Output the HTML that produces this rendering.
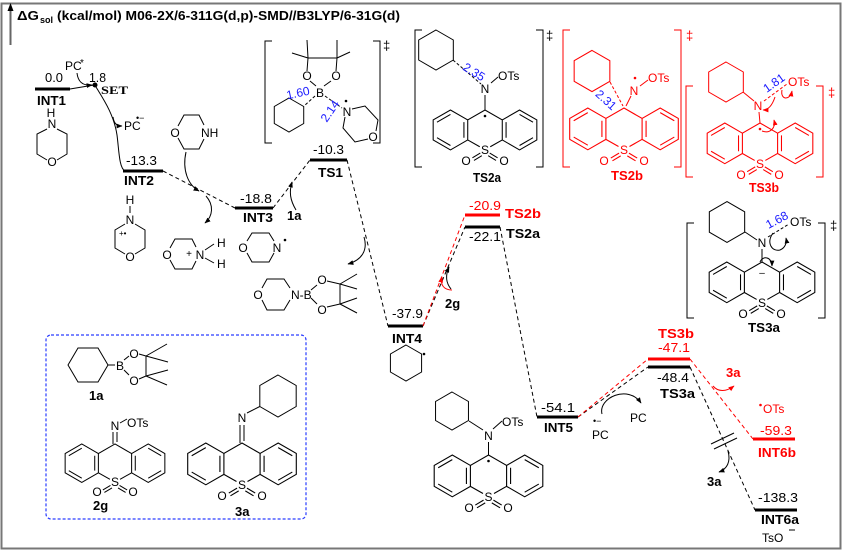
<!DOCTYPE html>
<html><head><meta charset="utf-8">
<style>
html,body{margin:0;padding:0;background:#fff;}
svg{display:block;}
text{font-family:"Liberation Sans",Arial,sans-serif;font-size:12px;}
.b{font-weight:bold;font-size:13px;}
.r{fill:#ff0000;}
.bl{fill:#1a1aff;}
</style></head><body>
<svg width="846" height="553" viewBox="0 0 846 553" xmlns="http://www.w3.org/2000/svg">
<defs>
<marker id="ak" viewBox="0 0 10 10" refX="9" refY="5" markerWidth="6" markerHeight="6" orient="auto"><path d="M0,1L10,5L0,9z" fill="#000"/></marker>
<marker id="ar" viewBox="0 0 10 10" refX="9" refY="5" markerWidth="6" markerHeight="6" orient="auto"><path d="M0,1L10,5L0,9z" fill="#ff0000"/></marker>
<g id="tx" fill="none">
<path d="M-16.45,28.5 L-16.45,9.5 L0,0 L16.45,9.5 L16.45,28.5 L5,35 M-16.45,28.5 L-5,35 M16.45,9.5 L32.9,0 L49.36,9.5 L49.36,28.5 L32.9,38 L16.45,28.5 M-16.45,9.5 L-32.9,0 L-49.36,9.5 L-49.36,28.5 L-32.9,38 L-16.45,28.5 M20.07,11.59 L20.07,26.41 M32.9,4.2 L45.73,11.59 M45.73,26.41 L32.9,33.8 M-20.07,11.59 L-20.07,26.41 M-32.9,4.2 L-45.73,11.59 M-45.73,26.41 L-32.9,33.8 M-4.5,41 L-12,45.5 M-3,43.5 L-10.5,48 M4.5,41 L12,45.5 M3,43.5 L10.5,48"/>
</g>
<polygon id="hx" points="0,-20 17.32,-10 17.32,10 0,20 -17.32,10 -17.32,-10" fill="none"/>
</defs>

<!-- frame -->
<rect x="1.5" y="3.5" width="839" height="545" fill="none" stroke="#777" stroke-width="2"/>
<line x1="10.5" y1="45" x2="10.5" y2="10" stroke="#666" stroke-width="2"/>
<path d="M10.5,3 L7.5,11 L13.5,11z" fill="#000"/>

<!-- title -->
<text x="17" y="20" class="b" textLength="22" lengthAdjust="spacingAndGlyphs">ΔG</text>
<text x="40" y="23" style="font-size:9px;font-weight:bold">sol</text>
<text x="57" y="20" class="b" textLength="343" lengthAdjust="spacingAndGlyphs">(kcal/mol) M06-2X/6-311G(d,p)-SMD//B3LYP/6-31G(d)</text>

<!-- energy bars -->
<g stroke="#000" stroke-width="3">
<line x1="35" y1="89" x2="70" y2="89"/>
<line x1="123" y1="171" x2="163" y2="171"/>
<line x1="235" y1="208" x2="273" y2="208"/>
<line x1="310" y1="160" x2="347" y2="160"/>
<line x1="388" y1="326" x2="423" y2="326"/>
<line x1="465" y1="227" x2="500" y2="227"/>
<line x1="537" y1="417" x2="578" y2="417"/>
<line x1="648" y1="367" x2="690" y2="367"/>
<line x1="755" y1="510" x2="797" y2="510"/>
</g>
<g stroke="#ff0000" stroke-width="3">
<line x1="465" y1="215" x2="500" y2="215"/>
<line x1="648" y1="359" x2="690" y2="359"/>
<line x1="753" y1="439" x2="795" y2="439"/>
</g>
<g stroke="#000" stroke-width="1" stroke-dasharray="4,3" fill="none">
<line x1="163" y1="171" x2="235" y2="208"/>
<line x1="273" y1="208" x2="310" y2="160"/>
<line x1="347" y1="160" x2="388" y2="326"/>
<line x1="423" y1="326" x2="465" y2="227"/>
<line x1="500" y1="227" x2="537" y2="417"/>
<line x1="578" y1="417" x2="648" y2="367"/>
<line x1="690" y1="367" x2="755" y2="510"/>
</g>
<g stroke="#ff0000" stroke-width="1" stroke-dasharray="4,3" fill="none">
<line x1="423" y1="326" x2="465" y2="215"/>
<line x1="578" y1="417" x2="648" y2="359"/>
<line x1="690" y1="359" x2="753" y2="439"/>
</g>

<!-- arrows / curves -->
<g stroke="#000" stroke-width="1" fill="none">
<line x1="70" y1="89" x2="94" y2="85"/>
<path d="M77,73 C78,82 83,86 92,85" marker-end="url(#ak)"/>
<path d="M96,87 C104,100 114,115 117,135 C119,150 119,168 125,171"/>
<path d="M113,117 C114,124 117,126 122,126" marker-end="url(#ak)"/>
<path d="M186,152 C182,170 188,185 199,191" marker-end="url(#ak)"/>
<path d="M206,196 C214,205 213,216 205,223" marker-end="url(#ak)"/>
<path d="M296,210 C290,200 289,192 292,182" marker-end="url(#ak)"/>
<path d="M364,237 C368,250 362,260 348,264" marker-end="url(#ak)"/>
<path d="M451,289 C446,283 445,276 449,267" marker-end="url(#ak)"/>
<path d="M602,414 C598,398 628,384 641,403" marker-end="url(#ak)"/>
<path d="M728,451 C731,462 727,469 719,472" marker-end="url(#ak)"/>
<line x1="711" y1="444" x2="734" y2="433"/>
<line x1="714" y1="449" x2="737" y2="438"/>
<line x1="789" y1="530" x2="795" y2="530"/>
</g>
<g stroke="#ff0000" stroke-width="1" fill="none">
<path d="M452,290 C444,290 440,285 442,277" marker-end="url(#ar)"/>
<path d="M713,386 C718,392 726,392 734,386" marker-end="url(#ar)"/>
</g>
<circle cx="95" cy="85" r="2.5" fill="#000"/>

<!-- energy labels -->
<text x="65" y="70">PC</text><text x="80" y="66" style="font-size:10px">*</text>
<text x="45" y="82" style="font-size:13px" textLength="18" lengthAdjust="spacingAndGlyphs">0.0</text>
<text x="89" y="82" style="font-size:13px" textLength="17" lengthAdjust="spacingAndGlyphs">1.8</text>
<text x="101" y="94" style="font-family:'Liberation Serif',serif;font-weight:bold;font-size:12px" textLength="27" lengthAdjust="spacingAndGlyphs">SET</text>
<text x="37" y="105" class="b" textLength="29" lengthAdjust="spacingAndGlyphs">INT1</text>
<text x="124" y="130">PC</text><text x="136" y="121" style="font-size:9px">•−</text>
<text x="126" y="165" style="font-size:13px" textLength="31" lengthAdjust="spacingAndGlyphs">-13.3</text>
<text x="124" y="185" class="b" textLength="30" lengthAdjust="spacingAndGlyphs">INT2</text>
<text x="240" y="203" style="font-size:13px" textLength="32" lengthAdjust="spacingAndGlyphs">-18.8</text>
<text x="243" y="222" class="b" textLength="30" lengthAdjust="spacingAndGlyphs">INT3</text>
<text x="287" y="220" class="b">1a</text>
<text x="313" y="154" style="font-size:13px" textLength="31" lengthAdjust="spacingAndGlyphs">-10.3</text>
<text x="318" y="177" class="b" textLength="25" lengthAdjust="spacingAndGlyphs">TS1</text>
<text x="392" y="318" style="font-size:13px" textLength="31" lengthAdjust="spacingAndGlyphs">-37.9</text>
<text x="392" y="343" class="b" textLength="30" lengthAdjust="spacingAndGlyphs">INT4</text>
<text x="469" y="210" class="r" style="font-size:13px" textLength="32" lengthAdjust="spacingAndGlyphs">-20.9</text>
<text x="505" y="218" class="b r" textLength="36" lengthAdjust="spacingAndGlyphs">TS2b</text>
<text x="469" y="241" style="font-size:13px" textLength="32" lengthAdjust="spacingAndGlyphs">-22.1</text>
<text x="506" y="238" class="b" textLength="34" lengthAdjust="spacingAndGlyphs">TS2a</text>
<text x="445" y="308" class="b">2g</text>
<text x="541" y="412" style="font-size:13px" textLength="34" lengthAdjust="spacingAndGlyphs">-54.1</text>
<text x="544" y="432" class="b" textLength="29" lengthAdjust="spacingAndGlyphs">INT5</text>
<text x="592" y="439">PC</text><text x="593" y="424" style="font-size:9px">•−</text>
<text x="630" y="422">PC</text>
<text x="658" y="338" class="b r" textLength="36" lengthAdjust="spacingAndGlyphs">TS3b</text>
<text x="658" y="352" class="r" style="font-size:13px" textLength="32" lengthAdjust="spacingAndGlyphs">-47.1</text>
<text x="657" y="382" style="font-size:13px" textLength="32" lengthAdjust="spacingAndGlyphs">-48.4</text>
<text x="660" y="398" class="b" textLength="35" lengthAdjust="spacingAndGlyphs">TS3a</text>
<text x="726" y="377" class="b r">3a</text>
<circle cx="760.5" cy="405" r="1.3" fill="#ff0000"/>
<text x="763" y="413" class="r">OTs</text>
<text x="760" y="435" class="r" style="font-size:13px" textLength="32" lengthAdjust="spacingAndGlyphs">-59.3</text>
<text x="758" y="457" class="b r" textLength="38" lengthAdjust="spacingAndGlyphs">INT6b</text>
<text x="707" y="486" class="b">3a</text>
<text x="758" y="502" style="font-size:13px" textLength="40" lengthAdjust="spacingAndGlyphs">-138.3</text>
<text x="761" y="524" class="b" textLength="38" lengthAdjust="spacingAndGlyphs">INT6a</text>
<text x="762" y="542">TsO</text>

<!-- morpholines -->
<g stroke="#000" stroke-width="1" fill="none">
<path d="M47,129 L37,134 L37,154 L47,160 M57,129 L67,134 L67,154 L57,160"/>
<path d="M178,126 L184,115 L199,115 L204,125 M178,138 L184,149 L199,149 L204,139"/>
<line x1="130" y1="206" x2="130" y2="213"/>
<path d="M125,224 L115,230 L115,248 L125,254 M135,224 L145,230 L145,248 L135,254"/>
<path d="M170,248 L175,239 L192,239 L196,247 M170,260 L175,269 L192,269 L196,261"/>
<path d="M205,250 L214,244 M205,258 L214,263"/>
<path d="M247,241 L252,233 L269,233 L274,241 M247,253 L252,262 L269,262 L274,253"/>
<path d="M262,288 L267,279 L284,279 L290,288 M262,300 L267,310 L284,310 L290,300"/>
<path d="M311,290 L317,285 M311,298 L317,304 M327,281 L340,284 M327,307 L340,304 M340,284 L340,304 M340,284 L357,274 M340,284 L357,289 M340,304 L357,298 M340,304 L357,313"/>
</g>
<text x="51" y="117" text-anchor="middle">H</text>
<text x="52" y="128" text-anchor="middle">N</text>
<text x="52" y="166" text-anchor="middle">O</text>
<text x="175" y="137" text-anchor="middle">O</text>
<text x="201" y="137">NH</text>
<text x="130" y="204" text-anchor="middle">H</text>
<text x="130" y="224" text-anchor="middle">N</text>
<text x="119" y="236" style="font-size:8px">+•</text>
<text x="130" y="261" text-anchor="middle">O</text>
<text x="167" y="259" text-anchor="middle">O</text>
<text x="189" y="257" text-anchor="middle" style="font-size:10px">+</text>
<text x="200" y="259" text-anchor="middle">N</text>
<text x="217" y="247">H</text>
<text x="217" y="268">H</text>
<text x="243" y="252" text-anchor="middle">O</text>
<text x="277" y="252" text-anchor="middle">N</text>
<circle cx="285" cy="240" r="1.3" fill="#000"/>
<text x="258" y="299" text-anchor="middle">O</text>
<text x="291" y="299">N-B</text>
<text x="322" y="284" text-anchor="middle">O</text>
<text x="322" y="314" text-anchor="middle">O</text>

<!-- INT4 cyclohexyl radical -->
<use href="#hx" transform="translate(406,363) scale(0.9)" stroke="#000" stroke-width="1.1"/>
<circle cx="424" cy="354" r="1.3" fill="#000"/>

<!-- brackets -->
<g fill="none" stroke-width="1">
<path d="M272,41 L265,41 L265,143 L272,143 M373,41 L380,41 L380,143 L373,143" stroke="#000"/>
<path d="M422,30 L415,30 L415,167 L422,167 M536,30 L543,30 L543,167 L536,167" stroke="#000"/>
<path d="M570,30 L563,30 L563,167 L570,167 M674,30 L681,30 L681,167 L674,167" stroke="#ff0000"/>
<path d="M693,86 L686,86 L686,177 L693,177 M816,86 L823,86 L823,177 L816,177" stroke="#ff0000"/>
<path d="M694,223 L687,223 L687,318 L694,318 M818,223 L825,223 L825,318 L818,318" stroke="#000"/>
</g>
<text x="383" y="50" style="font-size:13px">‡</text>
<text x="546" y="40" style="font-size:13px">‡</text>
<text x="686" y="40" class="r" style="font-size:13px">‡</text>
<text x="828" y="97" class="r" style="font-size:13px">‡</text>
<text x="830" y="230" style="font-size:13px">‡</text>

<!-- TS1 structure -->
<use href="#hx" transform="translate(289,115) scale(0.85)" stroke="#000" stroke-width="1.15"/>
<g stroke="#000" stroke-width="1" fill="none">
<path d="M316,86 L310,81 M324,86 L331,81 M307,71 L308,58 M336,71 L337,58 M308,58 L337,58 M308,58 L292,53 M308,58 L307,40 M337,58 L350,52 M337,58 L337,40"/>
<path d="M352,109 L365,106 L378,120 L376,131 M368,139 L355,142 L343,128 L345,117"/>
<path d="M315,96 L304,106 M325,96 L342,108" stroke-dasharray="3,2"/>
</g>
<text x="307" y="80" text-anchor="middle">O</text>
<text x="336" y="80" text-anchor="middle">O</text>
<text x="320" y="97" text-anchor="middle">B</text>
<text x="347" y="116" text-anchor="middle">N</text>
<circle cx="346" cy="101" r="1.3" fill="#000"/>
<text x="373" y="141" text-anchor="middle">O</text>
<text x="298" y="97" text-anchor="middle" class="bl" transform="rotate(-12 298 93)">1.60</text>
<text x="330" y="115" text-anchor="middle" class="bl" transform="rotate(-56 330 111)">2.14</text>

<!-- TS2a structure -->
<use href="#hx" transform="translate(436,50)" stroke="#000" stroke-width="1"/>
<line x1="453" y1="60" x2="481" y2="84" stroke="#000" stroke-dasharray="3,2"/>
<text x="474" y="76" text-anchor="middle" class="bl" transform="rotate(32 474 72)">2.35</text>
<text x="485" y="93" text-anchor="middle">N</text>
<line x1="491" y1="83" x2="498" y2="77" stroke="#000"/>
<text x="498" y="80">OTs</text>
<line x1="485" y1="95" x2="485" y2="110" stroke="#000"/>
<use href="#tx" transform="translate(485,110) scale(1.05)" stroke="#000" stroke-width="1"/>
<circle cx="485" cy="116" r="1.3" fill="#000"/>
<text x="485" y="154" text-anchor="middle">S</text>
<text x="466" y="165" text-anchor="middle">O</text>
<text x="504" y="165" text-anchor="middle">O</text>
<text x="473" y="182" class="b" textLength="28" lengthAdjust="spacingAndGlyphs">TS2a</text>

<!-- TS2b structure -->
<use href="#hx" transform="translate(592,71) scale(1.03)" stroke="#ff0000" stroke-width="1"/>
<line x1="610" y1="82" x2="623" y2="106" stroke="#ff0000" stroke-dasharray="3,2"/>
<text x="606" y="104" text-anchor="middle" class="bl" transform="rotate(42 606 100)">2.31</text>
<line x1="626" y1="106" x2="631" y2="96" stroke="#ff0000"/>
<text x="634" y="95" text-anchor="middle" class="r">N</text>
<circle cx="635" cy="78" r="1.3" fill="#ff0000"/>
<line x1="640" y1="86" x2="648" y2="80" stroke="#ff0000"/>
<text x="648" y="82" class="r">OTs</text>
<use href="#tx" transform="translate(624,108) scale(1.1)" stroke="#ff0000" stroke-width="1"/>
<text x="624" y="154" text-anchor="middle" class="r">S</text>
<text x="604" y="165" text-anchor="middle" class="r">O</text>
<text x="644" y="165" text-anchor="middle" class="r">O</text>
<text x="611" y="180" class="b r" textLength="32" lengthAdjust="spacingAndGlyphs">TS2b</text>

<!-- TS3b structure -->
<use href="#hx" transform="translate(726,82)" stroke="#ff0000" stroke-width="1"/>
<line x1="743" y1="92" x2="754" y2="101" stroke="#ff0000"/>
<text x="758" y="110" text-anchor="middle" class="r">N</text>
<line x1="764" y1="101" x2="787" y2="84" stroke="#ff0000" stroke-dasharray="3,2"/>
<text x="774" y="87" text-anchor="middle" class="bl" transform="rotate(-35 774 83)">1.81</text>
<text x="788" y="86" class="r">OTs</text>
<line x1="759" y1="112" x2="760" y2="123" stroke="#ff0000"/>
<use href="#tx" transform="translate(760,123) scale(1.07)" stroke="#ff0000" stroke-width="1"/>
<circle cx="760" cy="129" r="1.3" fill="#ff0000"/>
<g stroke="#ff0000" fill="none">
<path d="M775,97 C772,106 768,110 763,110" marker-end="url(#ar)"/>
<path d="M762,131 C770,134 776,128 774,120" marker-end="url(#ar)"/>
<path d="M782,90 C780,100 790,101 792,91" marker-end="url(#ar)"/>
</g>
<text x="760" y="168" text-anchor="middle" class="r">S</text>
<text x="741" y="179" text-anchor="middle" class="r">O</text>
<text x="779" y="179" text-anchor="middle" class="r">O</text>
<text x="749" y="192" class="b r" textLength="30" lengthAdjust="spacingAndGlyphs">TS3b</text>

<!-- TS3a structure -->
<use href="#hx" transform="translate(727,222) scale(1.02)" stroke="#000" stroke-width="1"/>
<line x1="745" y1="232" x2="757" y2="240" stroke="#000"/>
<text x="762" y="247" text-anchor="middle">N</text>
<line x1="768" y1="237" x2="789" y2="224" stroke="#000" stroke-dasharray="3,2"/>
<text x="777" y="224" text-anchor="middle" class="bl" transform="rotate(-28 777 220)">1.68</text>
<text x="790" y="226">OTs</text>
<line x1="762" y1="249" x2="762" y2="262" stroke="#000"/>
<use href="#tx" transform="translate(762,262) scale(1.07)" stroke="#000" stroke-width="1"/>
<text x="762" y="276" text-anchor="middle" style="font-size:10px">–</text>
<g stroke="#000" fill="none">
<path d="M773,233 C766,243 772,252 780,250 C785,248 787,243 786,238" marker-end="url(#ak)"/>
<path d="M760,262 C763,255 772,257 772,266" marker-end="url(#ak)"/>
</g>
<text x="762" y="307" text-anchor="middle">S</text>
<text x="743" y="318" text-anchor="middle">O</text>
<text x="781" y="318" text-anchor="middle">O</text>
<text x="748" y="332" class="b" textLength="32" lengthAdjust="spacingAndGlyphs">TS3a</text>

<!-- INT5 structure -->
<use href="#hx" transform="translate(452,411) scale(0.95)" stroke="#000" stroke-width="1.05"/>
<line x1="469" y1="421" x2="483" y2="430" stroke="#000"/>
<text x="488.5" y="440" text-anchor="middle">N</text>
<line x1="493" y1="429" x2="502" y2="421" stroke="#000"/>
<text x="502" y="426">OTs</text>
<line x1="488.5" y1="442" x2="488.5" y2="455" stroke="#000"/>
<use href="#tx" transform="translate(488.5,455) scale(1.1)" stroke="#000" stroke-width="1"/>
<circle cx="488.5" cy="461" r="1.3" fill="#000"/>
<text x="488.5" y="501" text-anchor="middle">S</text>
<text x="469" y="512" text-anchor="middle">O</text>
<text x="508" y="512" text-anchor="middle">O</text>

<!-- blue dashed box -->
<rect x="46" y="335" width="260" height="184" rx="5" ry="5" fill="none" stroke="#2a3cff" stroke-width="1.2" stroke-dasharray="3,2"/>

<!-- 1a -->
<g stroke="#000" stroke-width="1" fill="none">
<polygon points="68,365 78,348 98,348 108,365 98,382 78,382"/>
<path d="M108,365 L115,365 M124,360 L129,356 M124,370 L129,375 M139,354 L146,356 M139,379 L146,376 M146,356 L146,376 M146,356 L167,344 M146,356 L168,362 M146,376 L168,370 M146,376 L167,385"/>
</g>
<text x="120" y="370" text-anchor="middle">B</text>
<text x="134" y="358" text-anchor="middle">O</text>
<text x="134" y="385" text-anchor="middle">O</text>
<text x="89" y="400" class="b">1a</text>

<!-- 2g -->
<text x="115" y="430" text-anchor="middle">N</text>
<g stroke="#000" stroke-width="1">
<line x1="120" y1="423" x2="127" y2="419"/>
<line x1="113" y1="432" x2="113" y2="444"/>
<line x1="117" y1="432" x2="117" y2="442"/>
</g>
<text x="127" y="427">OTs</text>
<use href="#tx" transform="translate(115,444) scale(1.01)" stroke="#000" stroke-width="1"/>
<text x="115" y="486" text-anchor="middle">S</text>
<text x="97" y="496" text-anchor="middle">O</text>
<text x="133" y="496" text-anchor="middle">O</text>
<text x="93" y="510" class="b">2g</text>

<!-- 3a -->
<use href="#hx" transform="translate(278,396) scale(1.05)" stroke="#000" stroke-width="0.95"/>
<g stroke="#000" stroke-width="1">
<line x1="259.8" y1="406.5" x2="247" y2="413"/>
<line x1="240" y1="425" x2="240" y2="443"/>
<line x1="244" y1="425" x2="244" y2="441"/>
</g>
<text x="242" y="422" text-anchor="middle">N</text>
<use href="#tx" transform="translate(242,443) scale(1.1)" stroke="#000" stroke-width="1"/>
<text x="242" y="489" text-anchor="middle">S</text>
<text x="222" y="500" text-anchor="middle">O</text>
<text x="262" y="500" text-anchor="middle">O</text>
<text x="235" y="516" class="b">3a</text>
</svg>
</body></html>
